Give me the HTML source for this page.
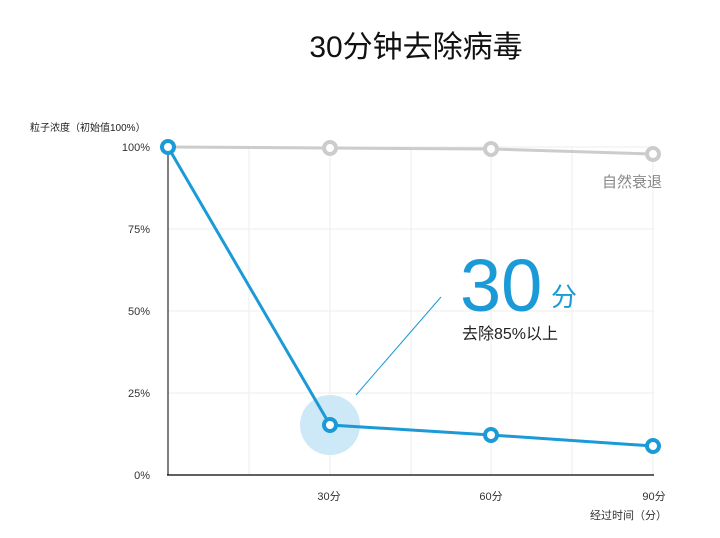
<!DOCTYPE html><html><head><meta charset="utf-8"><style>body{margin:0;background:#fff}svg{display:block}text{font-family:"Liberation Sans","Noto Sans CJK SC",sans-serif}</style></head><body>
<svg width="720" height="538" xmlns="http://www.w3.org/2000/svg">
<text x="416" y="57" font-size="30" text-anchor="middle" fill="#111">30分钟去除病毒</text>
<text x="30" y="131" font-size="10" fill="#222">粒子浓度（初始值100%）</text>
<g stroke="#eee" stroke-width="1">
<line x1="168" y1="147" x2="654" y2="147"/><line x1="168" y1="229" x2="654" y2="229"/><line x1="168" y1="311" x2="654" y2="311"/><line x1="168" y1="393" x2="654" y2="393"/>
<line x1="249" y1="147" x2="249" y2="475"/><line x1="330" y1="147" x2="330" y2="475"/><line x1="411" y1="147" x2="411" y2="475"/><line x1="491" y1="147" x2="491" y2="475"/><line x1="572" y1="147" x2="572" y2="475"/><line x1="653" y1="147" x2="653" y2="475"/>
</g>
<line x1="168" y1="147" x2="168" y2="475" stroke="#000" stroke-width="1"/>
<line x1="167" y1="475" x2="654" y2="475" stroke="#000" stroke-width="1.2"/>
<g font-size="11" fill="#333" text-anchor="end">
<text x="150" y="151">100%</text><text x="150" y="233">75%</text><text x="150" y="315">50%</text><text x="150" y="397">25%</text><text x="150" y="479">0%</text></g>
<g font-size="11" fill="#333" text-anchor="middle"><text x="329" y="500">30分</text><text x="491" y="500">60分</text><text x="654" y="500">90分</text></g>
<text x="667" y="519" font-size="11" fill="#333" text-anchor="end">经过时间（分）</text>
<polyline points="168,147 330,148 491,149 653,154" fill="none" stroke="#ccc" stroke-width="3"/>
<g fill="#fff" stroke="#ccc" stroke-width="4"><circle cx="330" cy="148" r="6"/><circle cx="491" cy="149" r="6"/><circle cx="653" cy="154" r="6"/></g>
<text x="662" y="187" font-size="15" fill="#888" text-anchor="end">自然衰退</text>
<circle cx="330" cy="425" r="30" fill="#cde8f6"/>
<line x1="356" y1="395" x2="441" y2="297" stroke="#1a9ad6" stroke-width="1"/>
<polyline points="168,147 330,425 491,435 653,446" fill="none" stroke="#1a9ad6" stroke-width="3"/>
<g fill="#fff" stroke="#1a9ad6" stroke-width="4"><circle cx="168" cy="147" r="6"/><circle cx="330" cy="425" r="6"/><circle cx="491" cy="435" r="6"/><circle cx="653" cy="446" r="6"/></g>
<text x="460" y="311" font-size="74" fill="#1a9ad6">30</text>
<text x="551" y="306" font-size="26" fill="#1a9ad6">分</text>
<text x="462" y="339" font-size="16" fill="#222">去除85%以上</text>
</svg></body></html>
